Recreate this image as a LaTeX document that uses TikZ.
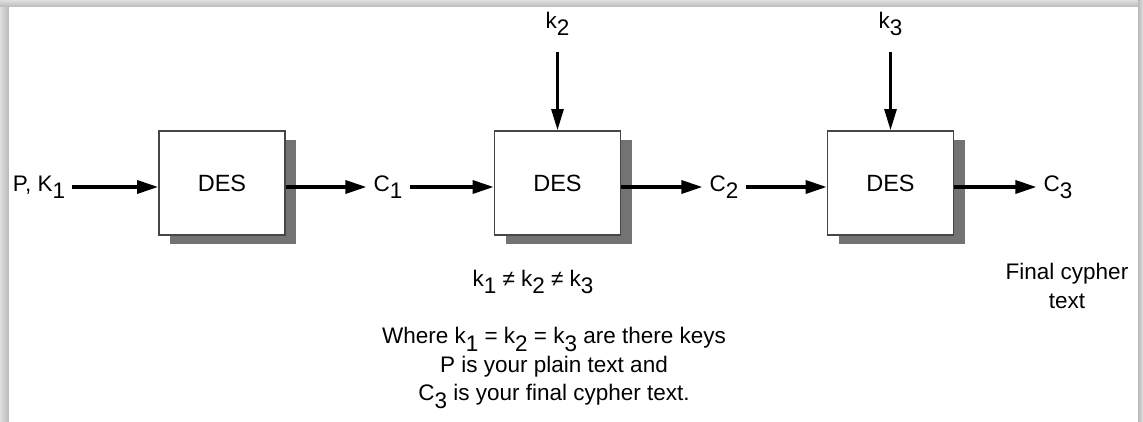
\documentclass[tikz,border=0pt]{standalone}
\usepackage{fontspec}
\setmainfont{Liberation Sans}
\usetikzlibrary{arrows.meta,shadows}
\newcommand{\lowsub}[1]{\raisebox{-0.32em}{#1}}
\definecolor{shadowgray}{RGB}{115,115,115}
\definecolor{boxline}{RGB}{70,70,70}
\begin{document}
\begin{tikzpicture}[x=1pt,y=-1pt,
  every node/.style={font=\fontsize{22.5}{28.5}\selectfont, inner sep=0pt},
  desbox/.style={draw=boxline, line width=1.7pt, fill=white, minimum width=126pt, minimum height=104pt,
     font=\fontsize{23.5}{28.5}\selectfont,
     general shadow={fill=shadowgray, shadow xshift=11pt, shadow yshift=-9pt}},
  lbl/.style={inner sep=7pt},
  arr/.style={line width=3.3pt, -{Triangle[length=21pt,width=13pt]}},
  varr/.style={line width=2.8pt, -{Triangle[length=21pt,width=12pt]}}]
\useasboundingbox (0,0) rectangle (1143,422);
\fill[gray!40] (0,0) rectangle (1143,422);
\shade[left color=gray!25, right color=gray!55] (0,0) rectangle (9,422);
\shade[top color=gray!25, bottom color=gray!55] (0,0) rectangle (1143,7);
\shade[left color=gray!55, right color=gray!25] (1138,0) rectangle (1143,422);
\fill[white] (9,7) rectangle (1138,422);

\node[desbox] (b1) at (222,183) {DES};
\node[desbox] (b2) at (557.5,183) {DES};
\node[desbox] (b3) at (890.5,183) {DES};

\node[lbl] (pk) at (39,187) {P, K\lowsub{1}};
\node[lbl] (c1) at (388,187) {C\lowsub{1}};
\node[lbl] (c2) at (724,187) {C\lowsub{2}};
\node[lbl] (c3) at (1058,187) {C\lowsub{3}};

\node (k2) at (557.5,24) {k\lowsub{2}};
\node (k3) at (890.5,24) {k\lowsub{3}};
\coordinate (k2a) at (557.5,52);
\coordinate (k3a) at (890.5,52);

\draw[arr] (pk.east) -- (pk.east -| b1.west);
\draw[arr] (c1.west -| b1.east) -- (c1.west);
\draw[arr] (c1.east) -- (c1.east -| b2.west);
\draw[arr] (c2.west -| b2.east) -- (c2.west);
\draw[arr] (c2.east) -- (c2.east -| b3.west);
\draw[arr] (c3.west -| b3.east) -- (c3.west);
\draw[varr] (k2a) -- (b2.north);
\draw[varr] (k3a) -- (b3.north);

\node (neq) at (533,282) {k\lowsub{1} ≠ k\lowsub{2} ≠ k\lowsub{3}};
\node[align=center] (fct) at (1067,286) {Final cypher\\text};
\node[align=center] (expl) at (554,368) {Where k\lowsub{1} = k\lowsub{2} = k\lowsub{3} are there keys\\P is your plain text and\\C\lowsub{3} is your final cypher text.};
\end{tikzpicture}
\end{document}
